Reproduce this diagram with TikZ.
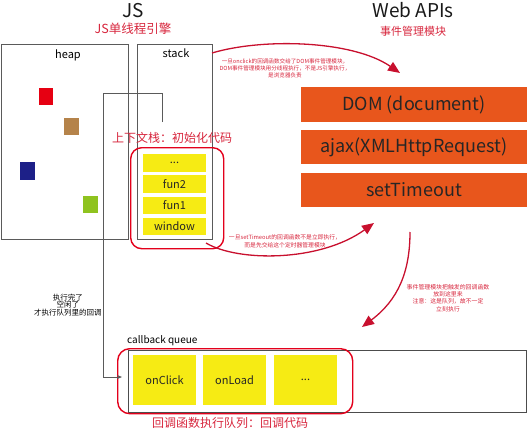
\documentclass[tikz,border=0pt]{standalone}
\usepackage{fontspec}
\setmainfont{Noto Sans CJK SC}
\usetikzlibrary{arrows.meta}
\definecolor{jsred}{HTML}{D7263D}
\definecolor{arrowred}{HTML}{C8102E}
\definecolor{rectred}{HTML}{E3001B}
\definecolor{boxyellow}{HTML}{F6EB14}
\definecolor{apiorange}{HTML}{E8561C}
\definecolor{framegray}{HTML}{5A5A5A}
\definecolor{sqred}{HTML}{E60012}
\definecolor{sqbrown}{HTML}{B5834A}
\definecolor{sqnavy}{HTML}{1D2088}
\definecolor{sqgreen}{HTML}{8FC31F}
\begin{document}
\begin{tikzpicture}[x=1pt,y=-1pt,
  frame/.style={draw=framegray,line width=0.9pt,anchor=north west,inner sep=0pt},
  sq/.style={anchor=north west,inner sep=0pt,minimum width=15pt,minimum height=17pt},
  ybox/.style={fill=boxyellow,inner sep=0pt,minimum width=63pt,text=black!85},
  obox/.style={fill=apiorange,inner sep=0pt,minimum width=226pt,text=black!85,font=\fontsize{18}{18}\selectfont},
  redgroup/.style={draw=rectred,line width=1.4pt,rounded corners=11pt,anchor=north west,inner sep=0pt},
  redarrow/.style={draw=arrowred,line width=1.3pt,-{Triangle[length=12pt,width=10pt]}},
  note/.style={text=jsred,align=center,inner sep=0pt},
  title/.style={anchor=base,inner sep=0pt,text=black!90,font=\fontsize{19}{19}\selectfont},
]
\useasboundingbox (0,0) rectangle (528,431);

% titles
\node[title] (jst) at (133,17) {JS};
\node[anchor=base,inner sep=0pt,text=jsred,font=\fontsize{12.5}{12.5}\selectfont] (jssub) at (133,33) {JS单线程引擎};
\node[title] (webt) at (413,17) {Web APIs};
\node[anchor=base,inner sep=0pt,text=jsred,font=\fontsize{11}{11}\selectfont] (websub) at (413,35) {事件管理模块};

% heap and stack
\node[frame,minimum width=127pt,minimum height=195pt] (heap) at (1,44) {};
\node[anchor=base,inner sep=0pt,font=\fontsize{11}{11}\selectfont] (heapl) at (68,58) {heap};
\node[frame,minimum width=75pt,minimum height=195pt] (stack) at (137,44) {};
\node[anchor=base,inner sep=0pt,font=\fontsize{11}{11}\selectfont] (stackl) at (176,57) {stack};

\node[sq,fill=sqred,minimum width=14pt] (s1) at (39,88) {};
\node[sq,fill=sqbrown] (s2) at (64,118) {};
\node[sq,fill=sqnavy,minimum height=18pt] (s3) at (20,162) {};
\node[sq,fill=sqgreen] (s4) at (83,196) {};

% execution context stack
\node[anchor=base,inner sep=0pt,text=jsred,font=\fontsize{12}{12}\selectfont] (ctxl) at (172,142) {上下文栈：初始化代码};
\node[redgroup,minimum width=93pt,minimum height=101pt] (ctx) at (130,147) {};
\node[ybox,minimum height=18pt,font=\fontsize{11}{11}\selectfont] (c1) at (174.5,163) {...};
\node[ybox,minimum height=18pt,font=\fontsize{11}{11}\selectfont] (c2) at (174.5,184) {fun2};
\node[ybox,minimum height=17pt,font=\fontsize{11}{11}\selectfont] (c3) at (174.5,205) {fun1};
\node[ybox,minimum height=17pt,font=\fontsize{11}{11}\selectfont] (c4) at (174.5,226) {window};

% web apis
\node[obox,minimum height=35pt] (dom) at (414,104.5) {DOM (document)};
\node[obox,minimum height=34pt] (ajax) at (414,147) {ajax(XMLHttpRequest)};
\node[obox,minimum height=34pt] (timer) at (414,190) {setTimeout};

% callback queue
\node[anchor=base west,inner sep=0pt,font=\fontsize{10}{10}\selectfont] (ql) at (127,343) {callback queue};
\node[frame,draw=black!70,minimum width=398pt,minimum height=62pt] (queue) at (128,350) {};
\node[redgroup,minimum width=235pt,minimum height=65pt,rounded corners=12pt] (qgroup) at (117,348) {};
\node[ybox,minimum height=50pt,font=\fontsize{11}{11}\selectfont] (q1) at (164.5,380) {onClick};
\node[ybox,minimum height=50pt,font=\fontsize{11}{11}\selectfont] (q2) at (234.5,380) {onLoad};
\node[ybox,minimum height=50pt,font=\fontsize{11}{11}\selectfont] (q3) at (305.5,380) {...};
\node[anchor=base,inner sep=0pt,text=jsred,font=\fontsize{12}{12}\selectfont] (qsub) at (230,427) {回调函数执行队列：回调代码};

% thin connector from stack to queue
\coordinate (ts) at (162,122);
\coordinate (te) at (122,377);
\draw[framegray,line width=0.8pt,-{Stealth[length=5pt,width=4pt]}] (ts) -- (162,93) -- (103,93) -- (103,377) -- (te);
\node[align=center,inner sep=0pt,font=\fontsize{7.5}{7.6}\selectfont] (note4) at (68,305) {执行完了\\空闲了\\才执行队列里的回调};

% red arrows
\coordinate (a1s) at (212,53);
\coordinate (a1e) at (400,73);
\draw[redarrow] (a1s) .. controls (262,38) and (352,40) .. (a1e);
\node[note,font=\fontsize{5.6}{7}\selectfont] (note1) at (285,68) {一旦onclick的回调函数交给了DOM事件管理模块，\\DOM事件管理模块用分线程执行，不是JS引擎执行，\\是浏览器负责};

\coordinate (a2s) at (206,243);
\coordinate (a2e) at (374,223);
\draw[redarrow] (a2s) .. controls (238,262) and (320,262) .. (a2e);
\node[note,font=\fontsize{5.8}{7.6}\selectfont] (note2) at (285,241) {一旦setTimeout的回调函数不是立即执行，\\而是先交给这个定时器管理模块};

\coordinate (a3s) at (410,232);
\coordinate (a3e) at (362,327);
\draw[redarrow] (a3s) .. controls (410,272) and (398,300) .. (a3e);
\node[note,font=\fontsize{5.9}{7.4}\selectfont] (note3) at (448,298) {事件管理模块把触发的回调函数\\放到这里来\\注意：这是队列，故不一定\\立刻执行};
\end{tikzpicture}
\end{document}
